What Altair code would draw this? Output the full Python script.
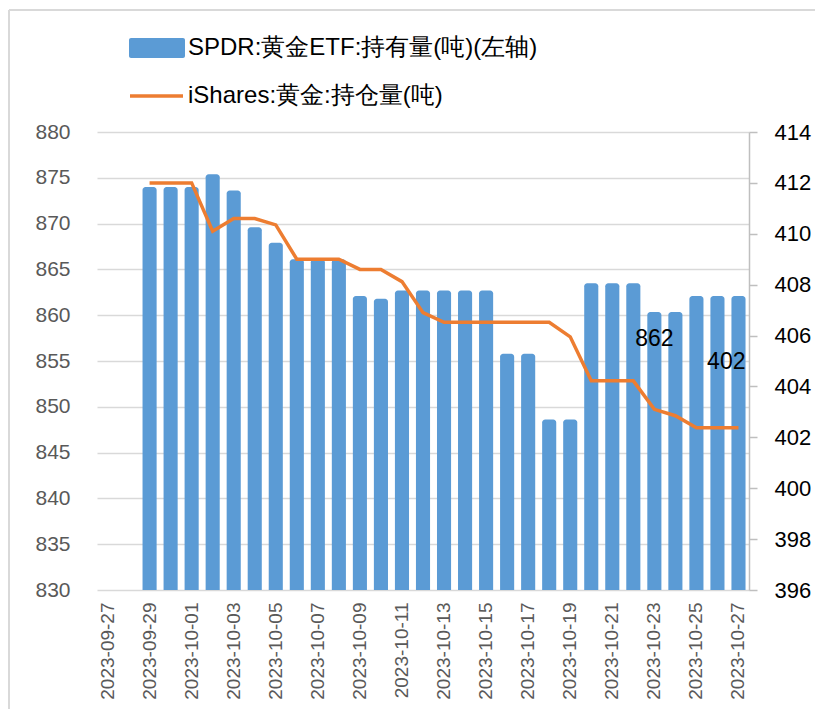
import altair as alt
import pandas as pd

dates = [d.strftime("%Y-%m-%d") for d in pd.date_range("2023-09-27", "2023-10-27")]
spdr = [None, None, 874.0, 874.0, 874.0, 875.4, 873.6, 869.6, 867.9, 866.1, 866.1, 866.1,
        862.1, 861.8, 862.7, 862.7, 862.7, 862.7, 862.7, 855.8, 855.8, 848.6, 848.6,
        863.5, 863.5, 863.5, 860.35, 860.35, 862.1, 862.1, 862.1]
ishares = [None, None, 412.0, 412.0, 412.0, 410.1, 410.6, 410.6, 410.35, 409.0, 409.0, 409.0,
           408.6, 408.6, 408.12, 406.9, 406.52, 406.52, 406.52, 406.52, 406.52, 406.52, 405.95,
           404.22, 404.22, 404.22, 403.1, 402.85, 402.38, 402.38, 402.38]
spdr_name = "SPDR:黄金ETF:持有量(吨)(左轴)"
ishares_name = "iShares:黄金:持仓量(吨)"
left_ticks = list(range(830, 881, 5))
right_ticks = list(range(396, 415, 2))
label_dates = dates[::2]

FONT = "Liberation Sans"
BLUE = "#5B9BD5"
ORANGE = "#ED7D31"

df = pd.DataFrame({"date": dates, "spdr": spdr, "ishares": ishares})
bars_df = df.dropna(subset=["spdr"])
line_df = df.dropna(subset=["ishares"])

xscale = alt.Scale(domain=dates, paddingInner=0.33, paddingOuter=0.165)
xaxis = alt.Axis(values=label_dates, labelAngle=-90, labelFont=FONT, labelFontSize=19,
                 labelColor="#595959", ticks=False, domain=False, grid=False,
                 labelPadding=12, title=None)
X = alt.X("date:O", scale=xscale, axis=xaxis)

bars = alt.Chart(bars_df).mark_bar(color=BLUE, cornerRadiusTopLeft=3, cornerRadiusTopRight=3).encode(
    x=X,
    y=alt.Y("spdr:Q", scale=alt.Scale(domain=[830, 880], zero=False, nice=False),
            axis=alt.Axis(values=left_ticks, grid=True, gridColor="#d9d9d9", gridWidth=1.5,
                          domain=False, ticks=False, labelFont=FONT, labelFontSize=21,
                          labelColor="#595959", labelPadding=27, title=None)),
    y2=alt.datum(830),
)

line = alt.Chart(line_df).mark_line(color=ORANGE, strokeWidth=3.5).encode(
    x=X,
    y=alt.Y("ishares:Q", scale=alt.Scale(domain=[396, 414], zero=False, nice=False),
            axis=alt.Axis(orient="right", values=right_ticks, grid=False, domain=True,
                          domainColor="#bfbfbf", domainWidth=1.5, ticks=True, tickColor="#bfbfbf",
                          tickWidth=1.5, tickSize=8, labelFont=FONT, labelFontSize=22,
                          labelColor="#000000", labelPadding=17, title=None)),
)

last_df = pd.DataFrame({"date": [dates[26], dates[-1]],
                        "label": [f"{spdr[-1]:.0f}", f"{ishares[-1]:.0f}"]})
lbl1 = alt.Chart(last_df.iloc[[0]]).mark_text(font=FONT, fontSize=23, color="#000000",
                                              baseline="middle", align="center").encode(
    x=X, y=alt.value(206.5), text="label:N")
lbl2 = alt.Chart(last_df.iloc[[1]]).mark_text(font=FONT, fontSize=23, color="#000000",
                                              baseline="middle", align="right", dx=7).encode(
    x=X, y=alt.value(229.5), text="label:N")

one = pd.DataFrame({"a": [0]})
leg_rect = alt.Chart(one).mark_rect(color=BLUE, cornerRadius=2).encode(
    x=alt.value(32), x2=alt.value(88), y=alt.value(-94), y2=alt.value(-74))
leg_line = alt.Chart(one).mark_rule(color=ORANGE, strokeWidth=3.5).encode(
    x=alt.value(33), x2=alt.value(86), y=alt.value(-36))
leg_text1 = alt.Chart(one).mark_text(
    font=FONT, fontSize=24, color="#000000", align="left", baseline="middle").encode(
    x=alt.value(91), y=alt.value(-84), text=alt.value(spdr_name))
leg_text2 = alt.Chart(one).mark_text(
    font=FONT, fontSize=24, color="#000000", align="left", baseline="middle").encode(
    x=alt.value(91), y=alt.value(-36), text=alt.value(ishares_name))

border_top = alt.Chart(one).mark_rule(color="#d9d9d9", strokeWidth=2).encode(
    x=alt.value(-88), x2=alt.value(730), y=alt.value(-122))
border_left = alt.Chart(one).mark_rule(color="#d9d9d9", strokeWidth=2).encode(
    x=alt.value(-88), y=alt.value(-122), y2=alt.value(600))

chart = alt.layer(
    bars, line, lbl1, lbl2, leg_rect, leg_line, leg_text1, leg_text2, border_top, border_left
).resolve_scale(y="independent").properties(
    width=652, height=458,
    background="white",
    autosize=alt.AutoSizeParams(type="none"),
    padding={"left": 89, "top": 124, "right": 66, "bottom": 119},
).configure_view(stroke=None, strokeWidth=0)

chart.save("out.html", embed_options={"renderer": "svg", "actions": False})
